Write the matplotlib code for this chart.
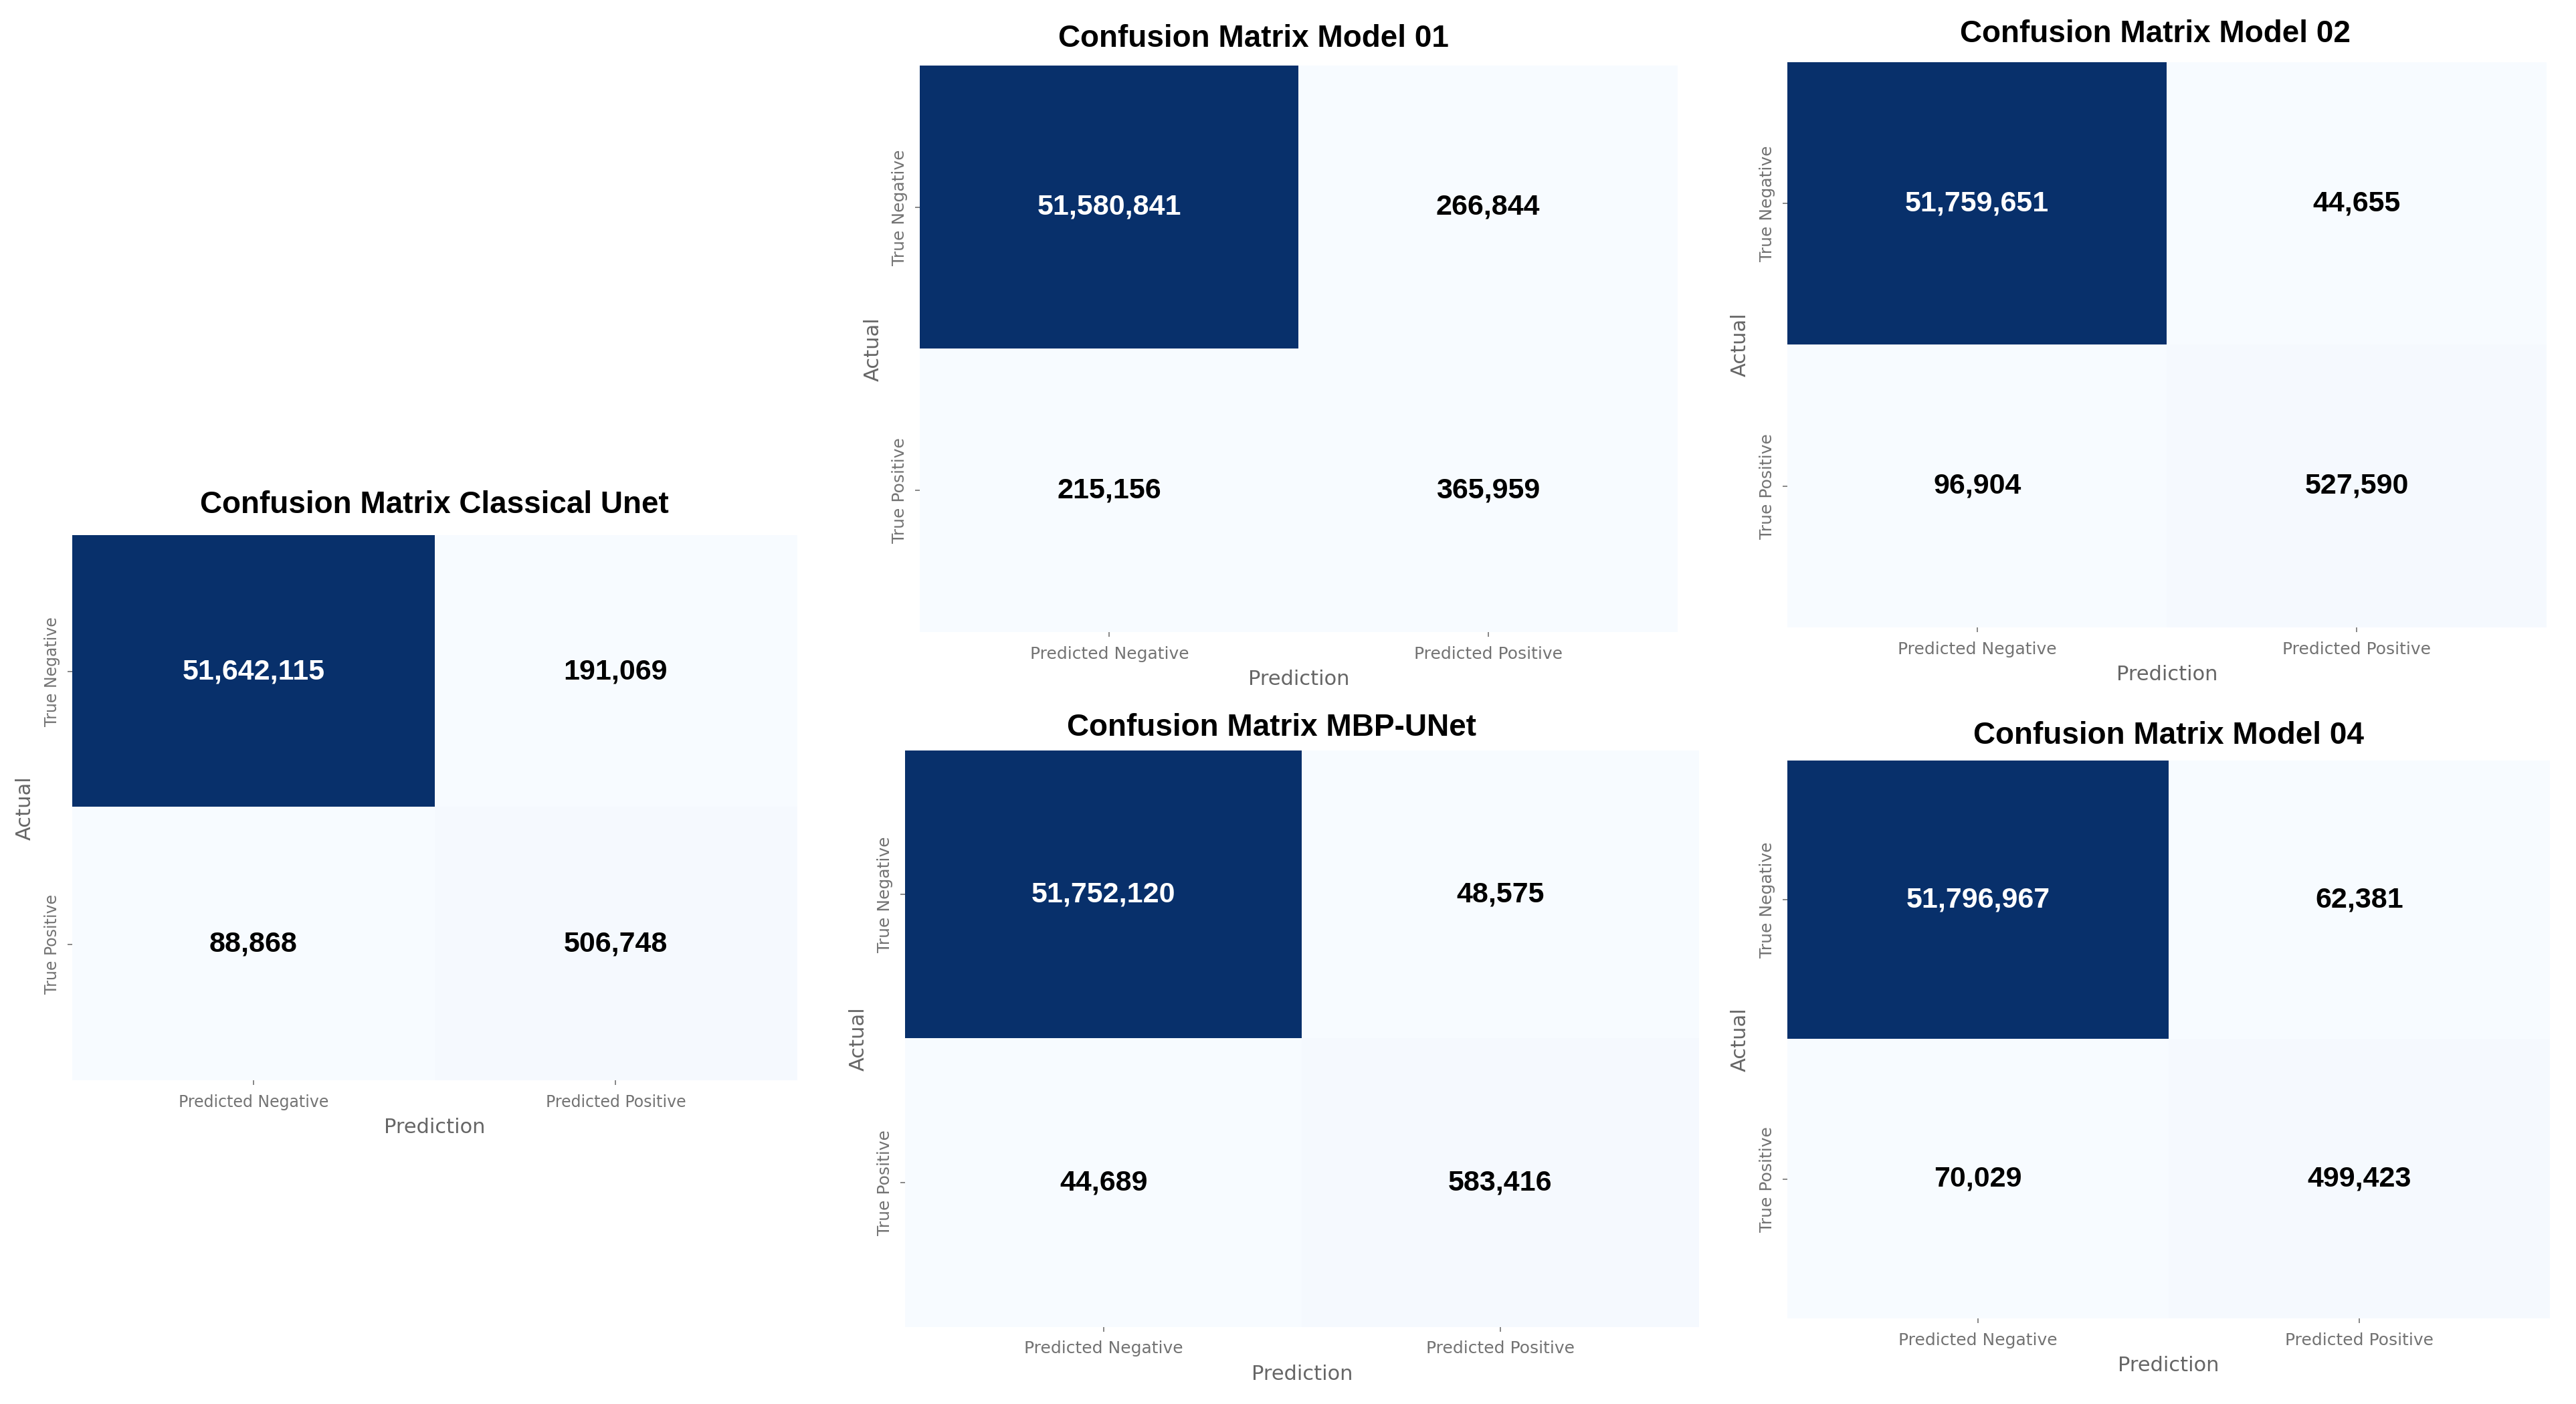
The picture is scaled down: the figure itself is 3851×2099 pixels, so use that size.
import numpy as np
import matplotlib
matplotlib.use("Agg")
import matplotlib.pyplot as plt

# Confusion matrix values per model: [[TN, FP], [FN, TP]]
titles = [
    "Confusion Matrix Classical Unet",
    "Confusion Matrix Model 01",
    "Confusion Matrix Model 02",
    "Confusion Matrix MBP-UNet",
    "Confusion Matrix Model 04",
]
true_neg = [51642115, 51580841, 51759651, 51752120, 51796967]
false_pos = [191069, 266844, 44655, 48575, 62381]
false_neg = [88868, 215156, 96904, 44689, 70029]
true_pos = [506748, 365959, 527590, 583416, 499423]

x_labels = ["Predicted Negative", "Predicted Positive"]
y_labels = ["True Negative", "True Positive"]

# panel boxes in a 1568x855 view of the figure: (left, top, right, bottom)
W, H = 1568.0, 855.0
boxes = [
    (44, 326, 485, 658),
    (560, 40, 1021, 385),
    (1088, 38, 1550, 382),
    (551, 457, 1034, 808),
    (1088, 463, 1552, 803),
]
# titles are not always centred over the matrix in the original layout
title_x = [0.50, 0.44, 0.485, 0.462, 0.50]
title_pads = [24, 20, 22, 16, 18]
tick_sizes = [17, 18, 18, 18, 18]

gray = "#737373"

fig = plt.figure(figsize=(38.51, 20.99), dpi=100)

for i, title in enumerate(titles):
    l, t, r, b = boxes[i]
    ax = fig.add_axes([l / W, 1 - b / H, (r - l) / W, (b - t) / H])
    cm = np.array([[true_neg[i], false_pos[i]], [false_neg[i], true_pos[i]]])
    ax.imshow(cm, cmap="Blues", aspect="auto", interpolation="nearest")

    for (row, col), val in np.ndenumerate(cm):
        color = "white" if val > cm.max() / 2 else "black"
        ax.text(col, row, f"{val:,}", ha="center", va="center", color=color,
                fontsize=31, fontweight="bold", family="Liberation Sans")

    ax.set_xticks([0, 1])
    ax.set_xticklabels(x_labels, fontsize=tick_sizes[i], color=gray)
    ax.set_yticks([0, 1])
    ax.set_yticklabels(y_labels, fontsize=tick_sizes[i], color=gray, rotation=90, va="center")
    ax.tick_params(axis="both", colors=gray, length=5, width=1.2)
    ax.tick_params(axis="x", pad=10)
    ax.tick_params(axis="y", pad=8)
    for lab in ax.get_xticklabels() + ax.get_yticklabels():
        lab.set_color(gray)
    ax.set_xlabel("Prediction", fontsize=22, color="#666666", labelpad=8)
    ax.set_ylabel("Actual", fontsize=22, color="#666666", labelpad=10)
    ax.set_title(title, fontsize=33, fontweight="bold", family="Liberation Sans",
                 x=title_x[i], pad=title_pads[i])
    for s in ax.spines.values():
        s.set_visible(False)

fig.savefig("out.png", dpi=100, facecolor="white")
